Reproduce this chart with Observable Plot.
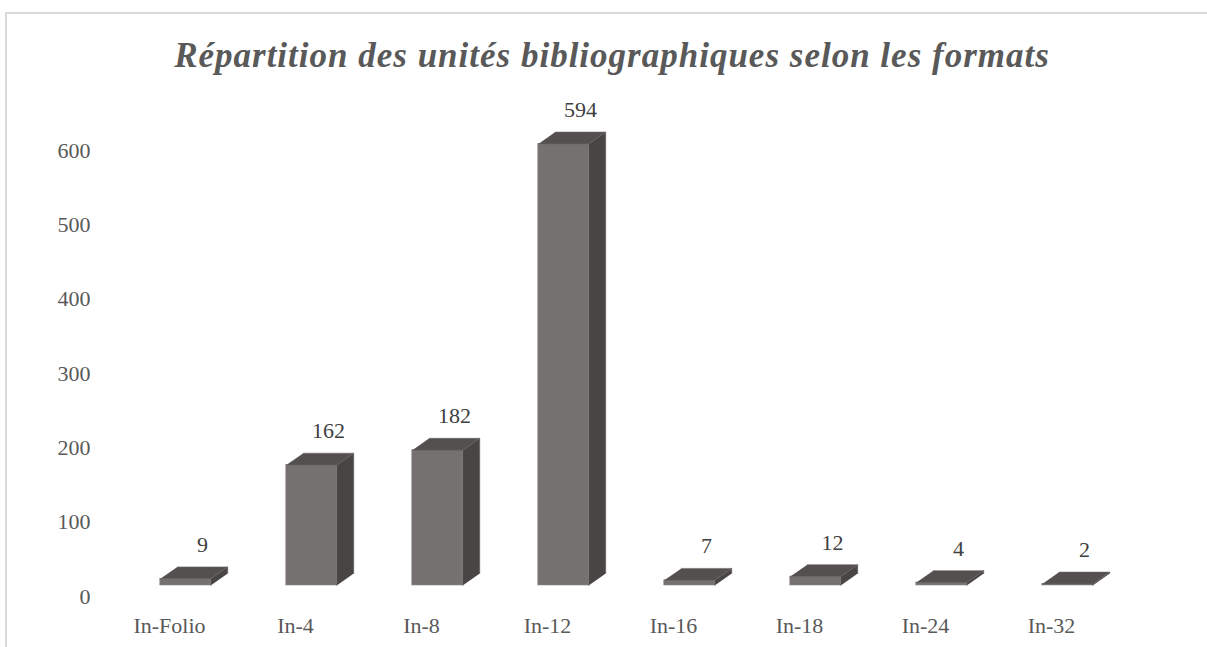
<!DOCTYPE html>
<html>
<head>
<meta charset="utf-8">
<script src="https://cdn.jsdelivr.net/npm/d3@7"></script>
<script src="https://cdn.jsdelivr.net/npm/@observablehq/plot@0.6"></script>
<style>
  html, body { margin: 0; padding: 0; background: #ffffff; }
  #page { position: relative; width: 1207px; height: 647px; overflow: hidden; background: #fff; }
  #frame { position: absolute; left: 5px; top: 12px; width: 1300px; height: 700px;
           border-top: 2px solid #d9d9d9; border-left: 2px solid #d9d9d9; }
  #title { position: absolute; left: 0; top: 36px; width: 1224px; text-align: center;
           font-family: "Liberation Serif", serif; font-style: italic; font-weight: bold;
           font-size: 35px; letter-spacing: 1px; color: #595959; white-space: nowrap; }
  #chart { position: absolute; left: 0; top: 85px; }
</style>
</head>
<body>
<div id="page">
  <div id="frame"></div>
  <div id="title">Répartition des unités bibliographiques selon les formats</div>
  <div id="chart"></div>
</div>
<script>
const categories = ["In-Folio", "In-4", "In-8", "In-12", "In-16", "In-18", "In-24", "In-32"];
const counts = [9, 162, 182, 594, 7, 12, 4, 2];
const yTicks = [0, 100, 200, 300, 400, 500, 600];

const half = 0.2;      // half bar width (category units)
const depthX = 0.135;  // 3D depth offset in x (category units)
const depthY = 16;     // 3D depth offset in y (value units)

const rows = categories.map((c, i) => ({i, c, v: counts[i]}));

const topFaces = [];
const sideFaces = [];
rows.forEach(d => {
  [[d.i - half, d.v], [d.i + half, d.v], [d.i + half + depthX, d.v + depthY], [d.i - half + depthX, d.v + depthY]]
    .forEach(([x, y]) => topFaces.push({id: d.i, x, y}));
  [[d.i + half, 0], [d.i + half, d.v], [d.i + half + depthX, d.v + depthY], [d.i + half + depthX, depthY]]
    .forEach(([x, y]) => sideFaces.push({id: d.i, x, y}));
});

const chart = Plot.plot({
  width: 1207,
  height: 562,
  marginLeft: 122,
  marginRight: 77,
  marginTop: 54,
  marginBottom: 62,
  x: {type: "linear", domain: [-0.5, 7.5], axis: null, label: null},
  y: {domain: [0, 600], axis: null, label: null},
  style: {fontFamily: "Liberation Serif, serif", fontSize: "22px", color: "#595959", background: "transparent", overflow: "visible"},
  marks: [
    Plot.axisY({ticks: yTicks, tickSize: 0, tickPadding: 32, dy: 11, fontSize: 22, label: null}),
    Plot.axisX({ticks: d3.range(categories.length), tickFormat: i => categories[i], tickSize: 0, tickPadding: 32, dx: -16, fontSize: 22, label: null}),
    Plot.rectY(rows, {x1: d => d.i - half, x2: d => d.i + half, y1: 0, y2: "v", fill: "#767171", stroke: "#8a8585", strokeWidth: 0.6}),
    Plot.line(sideFaces, {x: "x", y: "y", z: "id", fill: "#4a4545", stroke: "#5e5959", strokeWidth: 0.6}),
    Plot.line(topFaces, {x: "x", y: "y", z: "id", fill: "#555050", stroke: "#6a6565", strokeWidth: 0.6}),
    Plot.text(rows, {x: d => d.i + depthX, y: d => d.v + depthY, text: d => String(d.v), dy: -22, fill: "#404040", fontSize: 22})
  ]
});
document.getElementById("chart").appendChild(chart);
</script>
</body>
</html>
